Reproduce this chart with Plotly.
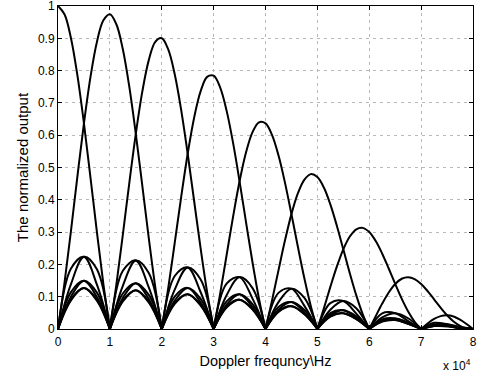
import plotly.graph_objects as go

# Doppler frequency samples (Hz), common grid
FREQ_HZ = [0, 2500, 5000, 7500, 10000, 12500, 15000, 17500, 20000, 22500, 25000,
           27500, 30000, 32500, 35000, 37500, 40000, 42500, 45000, 47500, 50000,
           52500, 55000, 57500, 60000, 62500, 65000, 67500, 70000, 72500, 75000,
           77500, 80000]

# normalized output of each Doppler filter channel on the common grid
FILTER_0 = [1, 0.9003, 0.6366, 0.3001, 0, 0.1801, 0.2122, 0.1286, 0, 0.1000, 0.1273,
            0.0818, 0, 0.0693, 0.0909, 0.0600, 0, 0.0530, 0.0707, 0.0474, 0,
            0.0429, 0.0579, 0.0391, 0, 0.0360, 0.0490, 0.0333, 0, 0.0311, 0.0424,
            0.0290, 0]
FILTER_1 = [0, 0.3040, 0.6366, 0.8887, 0.9745, 0.8659, 0.6043, 0.2811, 0, 0.1640, 0.1906,
            0.1138, 0, 0.0857, 0.1073, 0.0677, 0, 0.0551, 0.0707, 0.0456, 0,
            0.0380, 0.0490, 0.0316, 0, 0.0259, 0.0327, 0.0203, 0, 0.0142, 0.0149,
            0.0060, 0]
FILTER_2 = [0, 0.1391, 0.2236, 0.1848, 0, 0.2924, 0.6043, 0.8324, 0.9003, 0.7889, 0.5426,
            0.2487, 0, 0.1406, 0.1606, 0.0941, 0, 0.0682, 0.0834, 0.0514, 0,
            0.0395, 0.0490, 0.0304, 0, 0.0230, 0.0277, 0.0164, 0, 0.0102, 0.0100,
            0.0037, 0]
FILTER_3 = [0, 0.1000, 0.1493, 0.1127, 0, 0.1338, 0.2122, 0.1731, 0, 0.2664, 0.5426,
            0.7364, 0.7842, 0.6761, 0.4572, 0.2058, 0, 0.1118, 0.1249, 0.0715, 0,
            0.0489, 0.0579, 0.0343, 0, 0.0239, 0.0277, 0.0158, 0, 0.0091, 0.0084,
            0.0030, 0]
FILTER_4 = [0, 0.0887, 0.1266, 0.0911, 0, 0.0962, 0.1418, 0.1055, 0, 0.1219, 0.1906,
            0.1531, 0, 0.2283, 0.4572, 0.6094, 0.6366, 0.5377, 0.3556, 0.1562, 0,
            0.0802, 0.0866, 0.0477, 0, 0.0295, 0.0327, 0.0178, 0, 0.0094, 0.0084,
            0.0029, 0]
FILTER_5 = [0, 0.0923, 0.1266, 0.0875, 0, 0.0853, 0.1202, 0.0853, 0, 0.0877, 0.1273,
            0.0933, 0, 0.1044, 0.1606, 0.1267, 0, 0.1816, 0.3556, 0.4626, 0.4705,
            0.3857, 0.2467, 0.1042, 0, 0.0485, 0.0490, 0.0248, 0, 0.0117, 0.0100,
            0.0032, 0]
FILTER_6 = [0, 0.1141, 0.1493, 0.0988, 0, 0.0887, 0.1202, 0.0820, 0, 0.0777, 0.1079,
            0.0755, 0, 0.0751, 0.1073, 0.0772, 0, 0.0831, 0.1249, 0.0962, 0,
            0.1303, 0.2467, 0.3087, 0.3001, 0.2331, 0.1395, 0.0541, 0, 0.0191, 0.0149,
            0.0045, 0]
FILTER_7 = [0, 0.1872, 0.2236, 0.1373, 0, 0.1098, 0.1418, 0.0925, 0, 0.0808, 0.1079,
            0.0725, 0, 0.0666, 0.0909, 0.0624, 0, 0.0597, 0.0834, 0.0586, 0,
            0.0596, 0.0866, 0.0642, 0, 0.0787, 0.1395, 0.1603, 0.1392, 0.0920, 0.0424,
            0.0098, 0]

# extra readings inside each main lobe (Hz, value)
LOBE_X_0 = [1250, 3750, 6250, 8750, 71250, 73750, 76250, 78750]
LOBE_Y_0 = [0.9745, 0.7843, 0.4705, 0.1392, 0.0171, 0.0399, 0.0386, 0.0155]
LOBE_X_1 = [1250, 3750, 6250, 8750, 11250, 13750, 16250, 18750]
LOBE_Y_1 = [0.1419, 0.4736, 0.7792, 0.9558, 0.9435, 0.7494, 0.4437, 0.1295]
LOBE_X_2 = [11250, 13750, 16250, 18750, 21250, 23750, 26250, 28750]
LOBE_Y_2 = [0.1374, 0.4525, 0.7348, 0.8892, 0.8656, 0.6778, 0.3955, 0.1137]
LOBE_X_3 = [21250, 23750, 26250, 28750, 31250, 33750, 36250, 38750]
LOBE_Y_3 = [0.1261, 0.4093, 0.6549, 0.7806, 0.7480, 0.5761, 0.3303, 0.0932]
LOBE_X_4 = [31250, 33750, 36250, 38750, 41250, 43750, 46250, 48750]
LOBE_Y_4 = [0.1089, 0.3479, 0.5469, 0.6399, 0.6011, 0.4532, 0.2539, 0.0698]
LOBE_X_5 = [41250, 43750, 46250, 48750, 51250, 53750, 56250, 58750]
LOBE_Y_5 = [0.0876, 0.2737, 0.4204, 0.4795, 0.4379, 0.3198, 0.1728, 0.0456]
LOBE_X_6 = [51250, 53750, 56250, 58750, 61250, 63750, 66250, 68750]
LOBE_Y_6 = [0.0638, 0.1931, 0.2862, 0.3131, 0.2722, 0.1873, 0.0939, 0.0225]
LOBE_X_7 = [61250, 63750, 66250, 68750, 71250, 73750, 76250, 78750]
LOBE_Y_7 = [0.0396, 0.1131, 0.1555, 0.1544, 0.1174, 0.0660, 0.0233, 0.0023]

FILTERS = [
    (FILTER_0, LOBE_X_0, LOBE_Y_0), (FILTER_1, LOBE_X_1, LOBE_Y_1),
    (FILTER_2, LOBE_X_2, LOBE_Y_2), (FILTER_3, LOBE_X_3, LOBE_Y_3),
    (FILTER_4, LOBE_X_4, LOBE_Y_4), (FILTER_5, LOBE_X_5, LOBE_Y_5),
    (FILTER_6, LOBE_X_6, LOBE_Y_6), (FILTER_7, LOBE_X_7, LOBE_Y_7),
]

X_TICKS = [0, 10000, 20000, 30000, 40000, 50000, 60000, 70000, 80000]
X_TICK_TEXT = ['0', '1', '2', '3', '4', '5', '6', '7', '8']
Y_TICKS = [0, 0.1, 0.2, 0.3, 0.4, 0.5, 0.6, 0.7, 0.8, 0.9, 1]
Y_TICK_TEXT = ['0', '0.1', '0.2', '0.3', '0.4', '0.5', '0.6', '0.7', '0.8', '0.9', '1']


def split_at_nulls(xv, yv):
    """Break a response into lobes at its nulls so each lobe is smoothed on its own."""
    xs, ys = [], []
    n = len(xv)
    for i, (a, b) in enumerate(zip(xv, yv)):
        xs.append(a)
        ys.append(b)
        if b == 0 and 0 < i < n - 1:
            xs.extend([None, a])
            ys.extend([None, b])
    return xs, ys


fig = go.Figure()
for grid_vals, lx, ly in FILTERS:
    pts = sorted(zip(FREQ_HZ + lx, grid_vals + ly))
    xs, ys = split_at_nulls([p[0] for p in pts], [p[1] for p in pts])
    fig.add_trace(go.Scatter(
        x=xs, y=ys, mode='lines', connectgaps=False,
        line=dict(color='black', width=2, shape='spline', smoothing=1),
        hoverinfo='skip', showlegend=False,
    ))

FONT = 'Liberation Sans, Arial, Helvetica, sans-serif'
axis_common = dict(
    showline=True, linecolor='black', linewidth=1, mirror='ticks',
    ticks='inside', ticklen=4, tickcolor='black', tickwidth=1,
    showgrid=True, gridcolor='#b8b8b8', gridwidth=1, griddash='3px,4px',
    zeroline=False, tickfont=dict(family=FONT, size=12, color='black'),
    automargin=False, ticklabeloverflow='allow',
)

fig.update_layout(
    width=477, height=376,
    margin=dict(l=58, r=4, t=6, b=47, autoexpand=False),
    paper_bgcolor='white', plot_bgcolor='white',
    font=dict(family=FONT, size=12, color='black'),
    xaxis=dict(range=[0, 80000], tickvals=X_TICKS, ticktext=X_TICK_TEXT,
               ticklabelstandoff=2,
               title=dict(text='Doppler frequncy\\Hz', font=dict(size=14.5), standoff=7),
               **axis_common),
    yaxis=dict(range=[0, 1], tickvals=Y_TICKS, ticktext=Y_TICK_TEXT,
               ticklabelstandoff=0,
               title=dict(text='The normalized output', font=dict(size=15), standoff=5),
               **axis_common),
    annotations=[dict(text='x 10<sup>4</sup>', xref='paper', yref='paper',
                      x=1.0, y=-0.0805, xanchor='right', yanchor='top',
                      showarrow=False, font=dict(family=FONT, size=12, color='black'))],
)

fig.write_html('out.html', config={'displayModeBar': False},
               post_script="document.body.style.margin='0';")
